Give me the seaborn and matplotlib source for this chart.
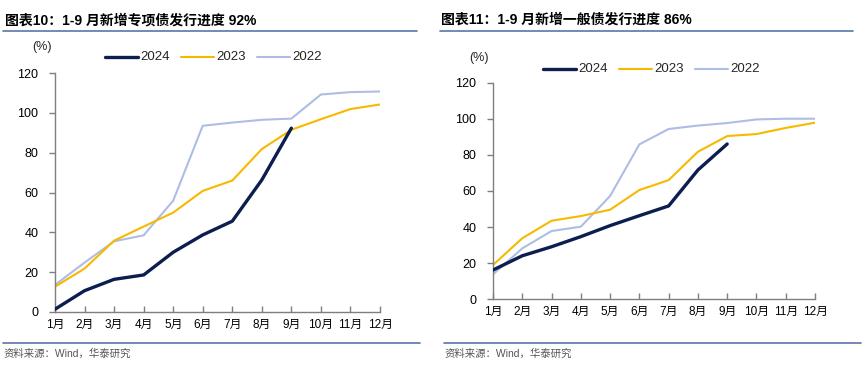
import matplotlib
matplotlib.use("Agg")
import matplotlib.pyplot as plt
import seaborn as sns
import pandas as pd
from matplotlib.lines import Line2D

months = ["1月", "2月", "3月", "4月", "5月", "6月", "7月", "8月", "9月", "10月", "11月", "12月"]
years = ["2024", "2023", "2022"]

# Left chart: 新增专项债发行进度 (%)
special_2024 = [1.4, 10.7, 16.4, 18.6, 30.0, 38.7, 45.6, 66.3, 92.3]
special_2023 = [12.7, 21.8, 35.8, 42.9, 49.9, 60.8, 66.0, 81.8, 91.5, 96.8, 101.9, 104.2]
special_2022 = [13.6, 24.8, 35.5, 38.5, 55.9, 93.5, 95.1, 96.5, 97.1, 109.2, 110.4, 110.7]

# Right chart: 新增一般债发行进度 (%)
general_2024 = [16.2, 24.1, 29.1, 34.7, 40.8, 46.3, 51.7, 71.6, 86.0]
general_2023 = [19.0, 33.8, 43.5, 46.1, 49.6, 60.5, 66.0, 81.7, 90.4, 91.5, 94.9, 97.8]
general_2022 = [13.8, 28.2, 37.8, 40.2, 57.2, 85.8, 94.3, 96.2, 97.6, 99.6, 100.0, 100.0]

titles = ["图表10：1-9 月新增专项债发行进度 92%", "图表11：1-9 月新增一般债发行进度 86%"]
yticks = [0, 20, 40, 60, 80, 100, 120]
source = "资料来源：Wind，华泰研究"

colors = {"2024": "#0c1d4f", "2023": "#f7b900", "2022": "#aebde3"}
widths = {"2024": 2.4, "2023": 1.5, "2022": 1.5}

sns.set_theme(style="white")
plt.rcParams["font.family"] = ["Liberation Sans", "Noto Sans CJK SC", "DejaVu Sans"]

def long_df(s24, s23, s22):
    rows = []
    for yr, vals in zip(years, [s24, s23, s22]):
        for i, v in enumerate(vals):
            rows.append({"pos": i, "value": v, "year": yr})
    return pd.DataFrame(rows)

fig = plt.figure(figsize=(8.64, 3.75), dpi=100)

W, H = 864.0, 375.0
panels = [
    dict(data=long_df(special_2024, special_2023, special_2022),
         ax=(55, 73, 380, 312), title_x=5, title_y=20, rule=(3, 417),
         pct=(42, 47), leg=(105, 57), foot_rule=(3, 420)),
    dict(data=long_df(general_2024, general_2023, general_2022),
         ax=(493, 82.6, 815, 299.3), title_x=441, title_y=20, rule=(440, 853),
         pct=(479, 58), leg=(543, 69), foot_rule=(444, 861)),
]

axis_color = "#7f7f7f"
rule_color = "#5b76a8"

for idx, p in enumerate(panels):
    x0, ytop, x1, ybot = p["ax"]
    ax = fig.add_axes([x0 / W, 1 - ybot / H, (x1 - x0) / W, (ybot - ytop) / H])
    sns.lineplot(data=p["data"], x="pos", y="value", hue="year", hue_order=years,
                 palette=colors, ax=ax, legend=False, sort=False)
    for line, yr in zip(ax.lines, years):
        line.set_linewidth(widths[yr])
        line.set_zorder({"2024": 3, "2023": 2, "2022": 1}[yr])
    ax.set_xlim(0, 11)
    ax.set_ylim(0, 120)
    ax.set_yticks(yticks)
    ax.set_yticklabels([str(t) for t in yticks], fontsize=9, color="#000000")
    ax.set_xticks(range(12))
    ax.set_xticklabels(months, fontsize=8.5, color="#000000")
    ax.set_xlabel("")
    ax.set_ylabel("")
    for s in ["top", "right"]:
        ax.spines[s].set_visible(False)
    for s in ["left", "bottom"]:
        ax.spines[s].set_color(axis_color)
        ax.spines[s].set_linewidth(1.0)
    ax.tick_params(axis="y", direction="out", length=4, width=1, color=axis_color, pad=8, left=True)
    ax.tick_params(axis="x", direction="in", length=4, width=1, color=axis_color, pad=5, bottom=True)
    ax.grid(False)
    ax.patch.set_alpha(0)

    # title
    fig.text(p["title_x"] / W, 1 - p["title_y"] / H, titles[idx], fontsize=10,
             fontweight="bold", va="center", ha="left", color="#000000")
    r0, r1 = p["rule"]
    fig.add_artist(Line2D([r0 / W, r1 / W], [1 - 31 / H, 1 - 31 / H], color=rule_color, lw=1.2))
    # unit label
    fig.text(p["pct"][0] / W, 1 - p["pct"][1] / H, "(%)", fontsize=9, va="center", ha="center")
    # legend
    lx, ly = p["leg"]
    for j, yr in enumerate(years):
        sx = lx + j * 76
        fig.add_artist(Line2D([sx / W, (sx + 33) / W], [1 - ly / H, 1 - ly / H],
                              color=colors[yr], lw=widths[yr]))
        fig.text((sx + 35) / W, 1 - ly / H, yr, fontsize=9.5, va="center", ha="left")
    # footer
    f0, f1 = p["foot_rule"]
    fig.add_artist(Line2D([f0 / W, f1 / W], [1 - 343 / H, 1 - 343 / H], color=rule_color, lw=1.2))
    fig.text((f0 + 1) / W, 1 - 354 / H, source, fontsize=7.5, va="center", ha="left", color="#555555")

fig.savefig("out.png", dpi=100)
